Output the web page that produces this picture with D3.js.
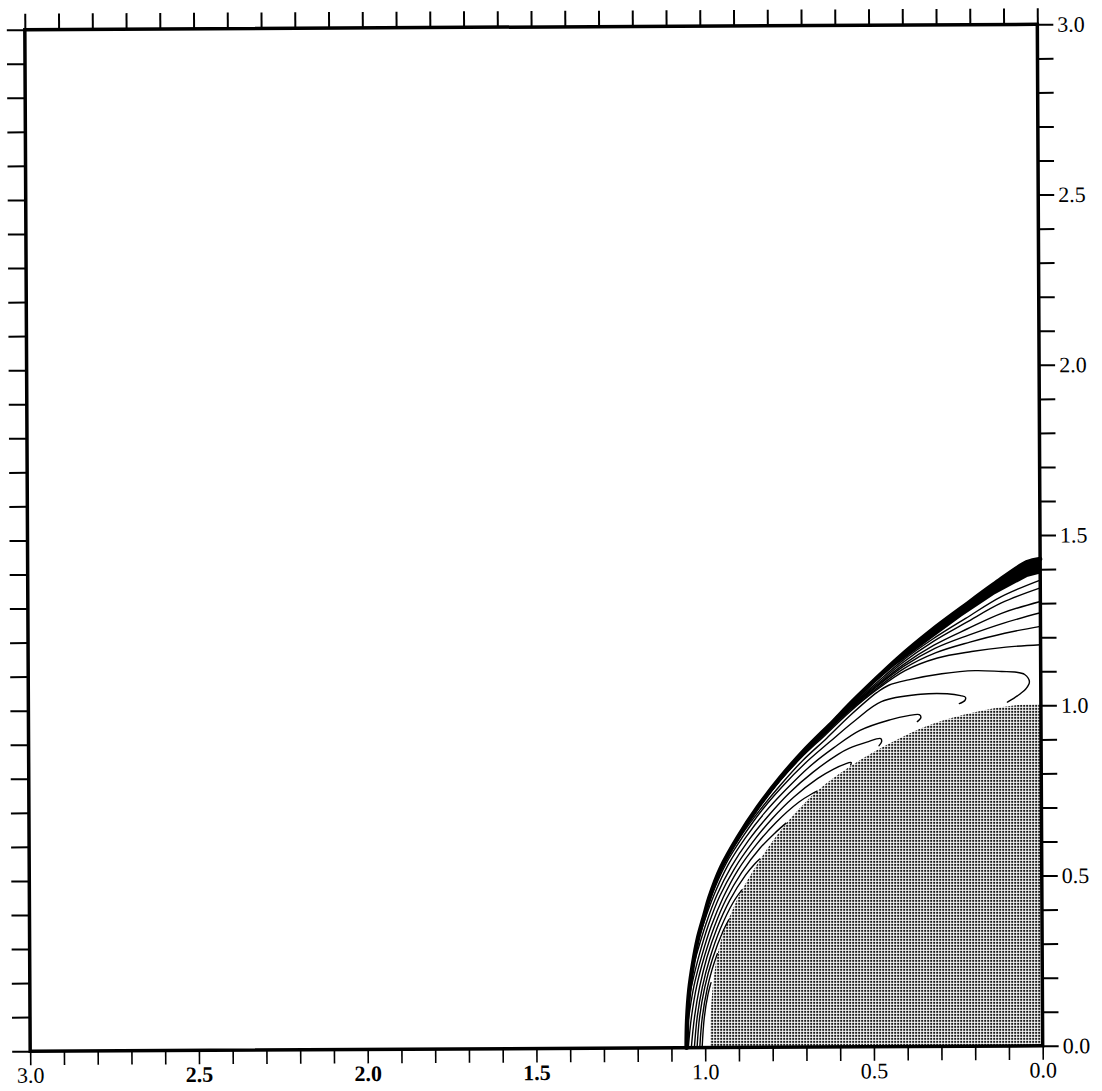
<!DOCTYPE html>
<html>
<head>
<meta charset="utf-8">
<script src="https://cdn.jsdelivr.net/npm/d3@7"></script>
<style>
  html, body { margin: 0; padding: 0; background: #fff; }
  svg { display: block; }
</style>
</head>
<body>
<svg id="chart" width="1102" height="1091"></svg>
<script>
// ------------------------------------------------------------------ data
const xMinorTicks = [3.0,2.9,2.8,2.7,2.6,2.5,2.4,2.3,2.2,2.1,2.0,1.9,1.8,1.7,1.6,1.5,1.4,1.3,1.2,1.1,1.0,0.9,0.8,0.7,0.6,0.5,0.4,0.3,0.2,0.1,0.0];
const yMinorTicks = [0.0,0.1,0.2,0.3,0.4,0.5,0.6,0.7,0.8,0.9,1.0,1.1,1.2,1.3,1.4,1.5,1.6,1.7,1.8,1.9,2.0,2.1,2.2,2.3,2.4,2.5,2.6,2.7,2.8,2.9,3.0];
const xMajorTicks = [3.0, 2.5, 2.0, 1.5, 1.0, 0.5, 0.0];
const xTickLabels = ["3.0", "2.5", "2.0", "1.5", "1.0", "0.5", "0.0"];
const yMajorTicks = [0.0, 0.5, 1.0, 1.5, 2.0, 2.5, 3.0];
const yTickLabels = ["0.0", "0.5", "1.0", "1.5", "2.0", "2.5", "3.0"];

// shock front  [x, y]
const shockFront = [[1.055,0],[1.053,0.08],[1.046,0.17],[1.034,0.25],[1.02,0.32],[1.0,0.39],[0.985,0.441],[0.95,0.529],[0.9,0.617],[0.841,0.705],[0.772,0.793],[0.702,0.871],[0.613,0.958],[0.572,1.0],[0.5,1.069],[0.425,1.138],[0.322,1.222],[0.235,1.286],[0.138,1.356],[0.04,1.42],[0,1.43]];
// dark band just behind the shock (upper part)  [x, y]
const shockBandOuter = [[0.841,0.705],[0.772,0.793],[0.702,0.871],[0.613,0.958],[0.572,1.0],[0.5,1.069],[0.425,1.138],[0.322,1.222],[0.235,1.286],[0.138,1.356],[0.04,1.42],[0,1.43]];
const shockBandInner = [[0,1.39],[0.04,1.38],[0.139,1.328],[0.237,1.264],[0.326,1.2],[0.435,1.12],[0.514,1.055],[0.6,0.962],[0.702,0.865],[0.772,0.789],[0.841,0.703]];
// edge of the shaded body  [x, y]
const bodyEdge = [[0.985,0],[0.982,0.12],[0.958,0.29],[0.905,0.43],[0.845,0.535],[0.77,0.64],[0.672,0.745],[0.584,0.812],[0.45,0.89],[0.33,0.944],[0.2,0.98],[0.08,1.0],[0,1.003]];

// contour lines, read as [angle from x axis (deg), radius]
const throughLines = [
  [[58,1.144],[60,1.147],[65,1.171],[70,1.204],[75,1.238],[80,1.276],[85,1.325],[90,1.368]],
  [[52,1.119],[55,1.126],[60,1.144],[65,1.167],[70,1.199],[75,1.231],[80,1.264],[85,1.307],[90,1.345]],
  [[46,1.106],[50,1.114],[55,1.124],[60,1.143],[65,1.164],[70,1.193],[75,1.220],[80,1.245],[85,1.277],[90,1.305]],
  [[42,1.099],[45,1.103],[50,1.111],[55,1.123],[60,1.140],[65,1.162],[70,1.188],[75,1.210],[80,1.226],[85,1.247],[90,1.272]],
  [[38,1.094],[40,1.095],[45,1.101],[50,1.110],[55,1.120],[60,1.138],[65,1.158],[70,1.182],[75,1.197],[80,1.205],[85,1.217],[90,1.232]],
  [[33,1.089],[35,1.090],[40,1.093],[45,1.100],[50,1.108],[55,1.117],[60,1.135],[65,1.155],[70,1.175],[75,1.181],[80,1.177],[85,1.176],[90,1.178]]
];
const loopLine = [[28,1.084],[30,1.085],[35,1.086],[40,1.087],[45,1.091],[50,1.099],[55,1.107],[60,1.126],[65,1.148],[67,1.153],[70,1.146],[75,1.133],[80,1.12],[84,1.106],[86,1.101],[87.5,1.092],[88.2,1.07],[87.6,1.05],[86.7,1.037],[85.5,1.024],[84.4,1.015]];
const tongueLines = [
  [[22,1.073],[25,1.076],[30,1.080],[35,1.080],[40,1.082],[45,1.084],[50,1.088],[55,1.093],[60,1.105],[65,1.118],[71,1.094],[75,1.072],[77,1.057],[77.7,1.049],[77.5,1.040],[76.5,1.035]],
  [[17,1.066],[20,1.067],[25,1.070],[30,1.073],[35,1.072],[40,1.071],[45,1.070],[50,1.072],[55,1.072],[60,1.073],[65,1.059],[68,1.048],[69.7,1.039],[69.8,1.030],[69,1.022]],
  [[13,1.061],[15,1.060],[20,1.060],[25,1.062],[30,1.062],[35,1.060],[40,1.057],[45,1.056],[50,1.053],[55,1.049],[57,1.045],[60,1.033],[62.3,1.022],[62.2,1.013],[61.5,1.006]],
  [[8,1.057],[10,1.055],[15,1.052],[20,1.052],[25,1.053],[30,1.051],[35,1.047],[40,1.043],[45,1.038],[50,1.030],[53,1.022],[55,1.014],[56,1.007],[55.7,1.002]],
  [[3,1.055],[5,1.052],[10,1.048],[15,1.044],[20,1.043],[25,1.042],[30,1.040],[35,1.034],[40,1.027],[45,1.017],[47.5,1.008],[48.5,1.003]],
  [[0,1.050],[5,1.044],[10,1.040],[15,1.036],[20,1.034],[25,1.032],[30,1.027],[35,1.019],[38.5,1.010],[41,1.003]],
  [[0,1.041],[5,1.035],[10,1.031],[15,1.028],[20,1.025],[25,1.021],[30,1.013],[32.5,1.006],[33.5,1.002]],
  [[0,1.032],[5,1.027],[10,1.023],[15,1.019],[20,1.015],[25,1.009],[27.5,1.002]]
];
const stagnationArcs = [
  [[0,1.024],[5,1.020],[10,1.016],[15,1.011],[20,1.005],[22,1.001]],
  [[0,1.016],[5,1.012],[10,1.008],[13,1.005],[16,1.001]],
  [[0,1.009],[5,1.006],[9,1.003],[11,1.000]]
];

// ------------------------------------------------------------------ drawing
const svg = d3.select("#chart");

const x = d3.scaleLinear().domain([3, 0]).range([27.5, 1040]);
const y = d3.scaleLinear().domain([0, 3]).range([1048.5, 27]);

const cx = (x.range()[0] + x.range()[1]) / 2;
const cy = (y.range()[0] + y.range()[1]) / 2;

const defs = svg.append("defs");
const pat = defs.append("pattern")
  .attr("id", "stipple")
  .attr("patternUnits", "userSpaceOnUse")
  .attr("width", 3).attr("height", 3)
  .attr("patternTransform", "rotate(0.3)");
pat.append("rect").attr("width", 3).attr("height", 3).attr("fill", "#ffffff");
pat.append("rect").attr("width", 2).attr("height", 2).attr("fill", "#1a1a1a");

const g = svg.append("g").attr("transform", `rotate(-0.3 ${cx} ${cy})`);

const lineXY = d3.line().x(d => x(d[0])).y(d => y(d[1])).curve(d3.curveCatmullRom.alpha(0.5));
const toXY = ([deg, r]) => [r * Math.cos(deg * Math.PI / 180), r * Math.sin(deg * Math.PI / 180)];

// shaded body
g.append("path")
  .attr("d", lineXY(bodyEdge) + `L${x(0)},${y(0)}Z`)
  .attr("fill", "url(#stipple)")
  .attr("stroke", "none");

// contour lines
const contourGroup = g.append("g")
  .attr("fill", "none")
  .attr("stroke", "#000")
  .attr("stroke-width", 1.4)
  .attr("stroke-linecap", "round")
  .attr("stroke-linejoin", "round");

[...throughLines, loopLine, ...tongueLines, ...stagnationArcs].forEach(c => {
  contourGroup.append("path").attr("d", lineXY(c.map(toXY)));
});

// shock front
g.append("path")
  .attr("d", lineXY(shockFront))
  .attr("fill", "none")
  .attr("stroke", "#000")
  .attr("stroke-width", 4.5)
  .attr("stroke-linecap", "round");

// dark band behind the shock
const bandPath = d3.line().x(d => x(d[0])).y(d => y(d[1])).curve(d3.curveLinearClosed);
g.append("path")
  .attr("d", bandPath([...shockBandOuter, ...shockBandInner]))
  .attr("fill", "#000")
  .attr("stroke", "#000")
  .attr("stroke-width", 2)
  .attr("stroke-linejoin", "round");

// axes
const fontFam = "'Liberation Serif', 'Times New Roman', serif";
const labelFor = (vals, labs) => d => {
  const i = vals.indexOf(d);
  return i >= 0 ? labs[i] : "";
};

const styleAxis = (sel, sw) => {
  sel.select(".domain").remove();
  sel.selectAll(".tick line").attr("stroke", "#000").attr("stroke-width", sw);
  sel.selectAll(".tick text")
    .attr("fill", "#000")
    .style("font-family", fontFam)
    .style("font-size", "22px");
};

g.append("g")
  .attr("transform", `translate(0,${y(0)})`)
  .call(d3.axisBottom(x).tickValues(xMinorTicks).tickSize(14).tickSizeOuter(0)
        .tickPadding(2).tickFormat(labelFor(xMajorTicks, xTickLabels)))
  .call(s => styleAxis(s, 1.6))
  .call(s => s.selectAll(".tick text")
        .style("font-weight", d => (d > 1.2 && d < 2.8) ? "bold" : "normal"));

g.append("g")
  .attr("transform", `translate(0,${y(3)})`)
  .call(d3.axisTop(x).tickValues(xMinorTicks).tickSize(16).tickSizeOuter(0).tickFormat(""))
  .call(s => styleAxis(s, 2));

g.append("g")
  .attr("transform", `translate(${x(3)},0)`)
  .call(d3.axisLeft(y).tickValues(yMinorTicks).tickSize(18).tickSizeOuter(0).tickFormat(""))
  .call(s => styleAxis(s, 2));

g.append("g")
  .attr("transform", `translate(${x(0)},0)`)
  .call(d3.axisRight(y).tickValues(yMinorTicks).tickSize(16).tickSizeOuter(0)
        .tickPadding(4).tickFormat(labelFor(yMajorTicks, yTickLabels)))
  .call(s => styleAxis(s, 2));

// frame
g.append("rect")
  .attr("x", x(3)).attr("y", y(3))
  .attr("width", x(0) - x(3)).attr("height", y(0) - y(3))
  .attr("fill", "none")
  .attr("stroke", "#000")
  .attr("stroke-width", 3.5);
</script>
</body>
</html>
